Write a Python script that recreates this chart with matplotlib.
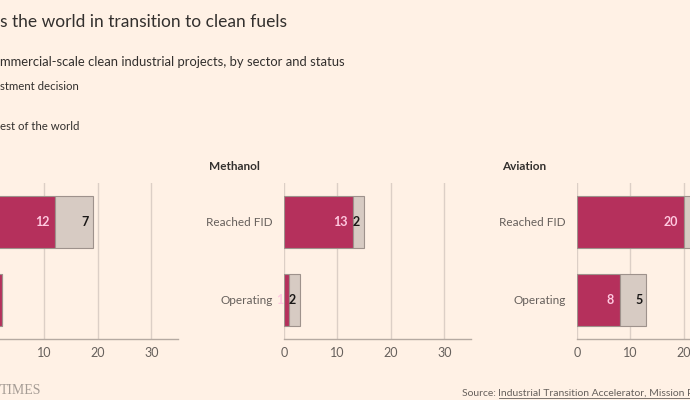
import matplotlib.pyplot as plt
import numpy as np

# Dane (kadr ucięty z lewej i prawej strony)
sektory = ['', 'Methanol', 'Aviation']
statusy = ['Reached FID', 'Operating']
glowny = [[12, 2], [13, 1], [20, 8]]      # segment bordowy
reszta_swiata = [[7, 0], [2, 2], [4, 5]]  # segment szary - Rest of the world
ticki = [0, 10, 20, 30]

tlo = '#FFF1E5'
bordo = '#B5305C'
szary = '#D7CBC3'
krawedz = '#9E928C'
siatka = '#DCCFC6'
tekst = '#33302E'
tekst2 = '#66605C'

plt.rcParams['font.family'] = ['Lato', 'DejaVu Sans']

fig = plt.figure(figsize=(6.9, 4), dpi=100, facecolor=tlo)

lewe = [-9, 284, 577]   # pozycja zera osi w pikselach
for i, sektor in enumerate(sektory):
    ax = fig.add_axes([lewe[i] / 690, (400 - 339) / 400, 187 / 690, 156 / 400])
    ax.set_facecolor(tlo)
    y = np.arange(len(statusy))
    a = np.array(glowny[i])
    b = np.array(reszta_swiata[i])
    ax.barh(y, a, height=0.667, color=bordo, edgecolor=krawedz, linewidth=0.8, zorder=3)
    ax.barh(y, b, left=a, height=0.667, color=szary, edgecolor=krawedz, linewidth=0.8, zorder=3)
    for j in range(len(statusy)):
        if a[j] > 0:
            ax.annotate(str(a[j]), (a[j], y[j]), xytext=(-4, 0), textcoords='offset points',
                        ha='right', va='center', color='#FFC9E0', fontsize=9,
                        fontweight='bold', zorder=4)
        if b[j] > 0:
            ax.annotate(str(b[j]), (a[j] + b[j], y[j]), xytext=(-3, 0), textcoords='offset points',
                        ha='right', va='center', color='#1A1817', fontsize=9,
                        fontweight='bold', zorder=4)
    ax.set_xlim(0, 35)
    ax.set_ylim(1.5, -0.5)
    ax.set_xticks(ticks=ticki)
    ax.set_xticks([0], minor=True)
    ax.grid(axis='x', color=siatka, linewidth=1, zorder=0)
    ax.set_yticks(y)
    ax.set_yticklabels(statusy)
    ax.tick_params(axis='y', length=0, pad=8, labelsize=8.5, labelcolor=tekst2)
    ax.tick_params(axis='x', which='major', length=0, pad=6, labelsize=9, labelcolor=tekst2)
    ax.tick_params(axis='x', which='minor', length=4, color='#A89D95')
    for s in ['top', 'right', 'left']:
        ax.spines[s].set_visible(False)
    ax.spines['bottom'].set_color('#B5AAA2')
    ax.spines['bottom'].set_linewidth(1)
    if sektor:
        fig.text((lewe[i] - 75) / 690, 1 - 167 / 400, sektor, fontsize=8.5,
                 fontweight='bold', color=tekst, va='center')

# Teksty naglowka (widoczne fragmenty)
fig.text(0, 1 - 22 / 400, 's the world in transition to clean fuels', fontsize=12.5,
         color=tekst, va='center')
fig.text(0, 1 - 62 / 400, 'mmercial-scale clean industrial projects, by sector and status',
         fontsize=9.4, color=tekst, va='center')
fig.text(0, 1 - 87 / 400, 'stment decision', fontsize=8.2, color=tekst, va='center')
fig.text(0, 1 - 126 / 400, 'est of the world', fontsize=8.2, color=tekst, va='center')

# Stopka
fig.text(0, 1 - 391 / 400, 'TIMES', fontsize=10, family='Liberation Serif',
         color='#A59C95', va='center')
zr = fig.text(462 / 690, 1 - 394 / 400, 'Source: ', fontsize=7.5, color=tekst2, va='center')
fig.canvas.draw()
r = fig.canvas.get_renderer()
bb = zr.get_window_extent(r)
zr2 = fig.text(bb.x1 / 690, 1 - 394 / 400,
               'Industrial Transition Accelerator, Mission Possible Partnership',
               fontsize=7.5, color=tekst2, va='center')
bb2 = zr2.get_window_extent(r)
fig.add_artist(plt.Line2D([bb2.x0 / 690, bb2.x1 / 690], [bb2.y0 / 400 + 0.002] * 2,
                          color=tekst2, linewidth=0.6))

fig.savefig('out.png', dpi=100, facecolor=tlo)
